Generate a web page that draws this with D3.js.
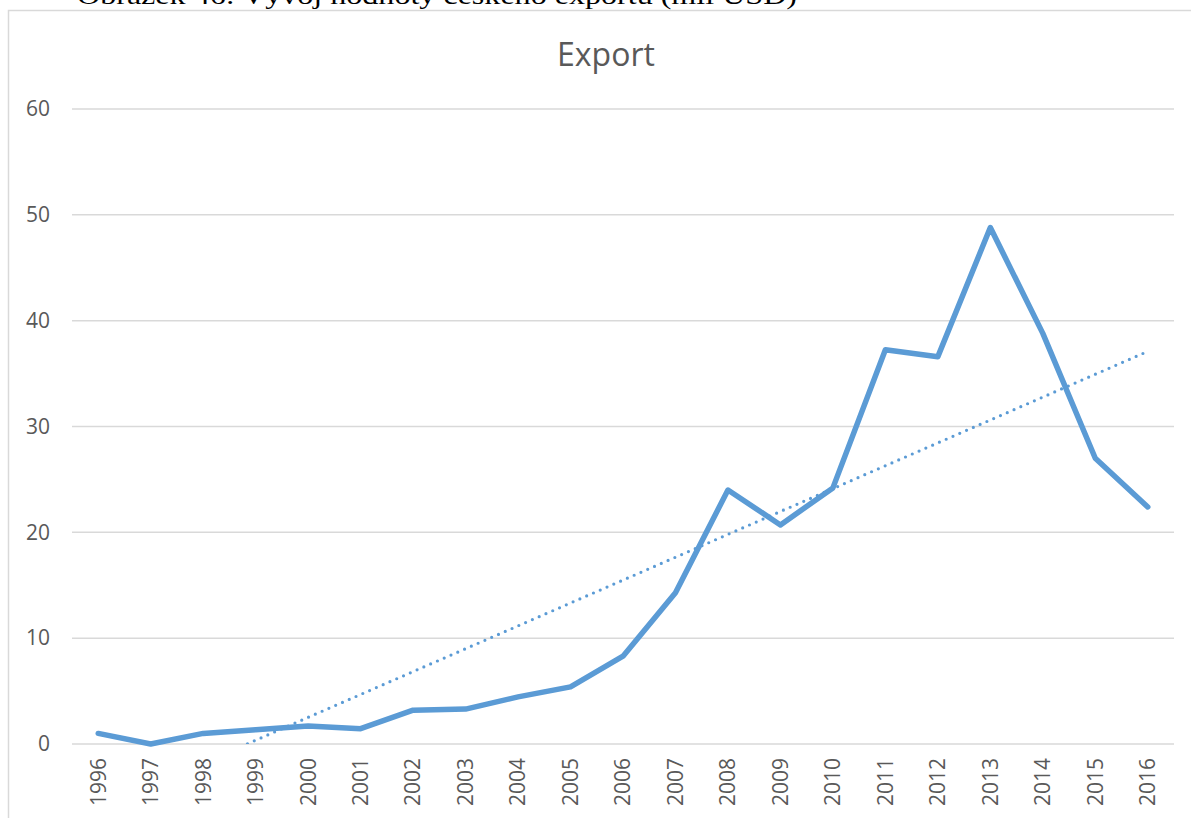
<!DOCTYPE html>
<html>
<head>
<meta charset="utf-8">
<script src="https://cdn.jsdelivr.net/npm/d3@7/dist/d3.min.js"></script>
<style>
  html, body { margin: 0; padding: 0; background: #fff; }
  svg { display: block; }
</style>
</head>
<body>
<svg id="chart" width="1191" height="818"></svg>
<script>
// Czech export value by year (mil USD)
const years = ["1996","1997","1998","1999","2000","2001","2002","2003","2004","2005","2006",
               "2007","2008","2009","2010","2011","2012","2013","2014","2015","2016"];
const exportValues = [1.0, 0.0, 1.0, 1.35, 1.7, 1.45, 3.2, 3.3, 4.45, 5.4, 8.3,
                      14.3, 24.0, 20.7, 24.2, 37.25, 36.6, 48.8, 38.8, 27.0, 22.4];
const yTicks = [0, 10, 20, 30, 40, 50, 60];
const chartTitle = "Export";
const caption = "Obrázek 46: Vývoj hodnoty českého exportu (mil USD)";

const svg = d3.select("#chart");
const plot = { left: 72, right: 1174, top: 109, bottom: 744 };
const labelFont = "'Open Sans', 'Noto Sans', sans-serif";

// Figure caption above the chart frame
svg.append("text")
  .attr("x", 77).attr("y", 4)
  .attr("font-family", "'Liberation Serif', 'Times New Roman', serif")
  .attr("font-size", 26)
  .attr("fill", "#000")
  .attr("textLength", 720)
  .attr("lengthAdjust", "spacingAndGlyphs")
  .text(caption);

// Chart frame
svg.append("rect")
  .attr("x", 8.5).attr("y", 10.5)
  .attr("width", 1300).attr("height", 900)
  .attr("fill", "#fff")
  .attr("stroke", "#d9d9d9").attr("stroke-width", 1.5);

const x = d3.scaleBand().domain(years).range([plot.left, plot.right]);
const y = d3.scaleLinear().domain([0, 60]).range([plot.bottom, plot.top]);
const cx = d => x(d) + x.bandwidth() / 2;

// Gridlines
svg.append("g")
  .selectAll("line").data(yTicks).join("line")
  .attr("x1", plot.left).attr("x2", plot.right)
  .attr("y1", d => y(d)).attr("y2", d => y(d))
  .attr("stroke", "#d9d9d9").attr("stroke-width", 1.5);

// Y axis labels
const yAxis = svg.append("g")
  .attr("transform", `translate(${plot.left},0)`)
  .call(d3.axisLeft(y).tickValues(yTicks).tickSize(0).tickPadding(22));
yAxis.select(".domain").remove();
yAxis.selectAll("text")
  .attr("font-family", labelFont)
  .attr("font-size", 21)
  .attr("fill", "#595959");

// X axis labels, rotated
const xAxis = svg.append("g")
  .attr("transform", `translate(0,${plot.bottom})`)
  .call(d3.axisBottom(x).tickSize(0).tickPadding(0));
xAxis.select(".domain").remove();
xAxis.selectAll("text")
  .attr("font-family", labelFont)
  .attr("font-size", 21)
  .attr("fill", "#595959")
  .attr("text-anchor", "end")
  .attr("dy", "0.35em")
  .attr("transform", "translate(0,14) rotate(-90)")
  .attr("x", 0).attr("y", 0);

// Title
svg.append("text")
  .attr("x", 606).attr("y", 66)
  .attr("text-anchor", "middle")
  .attr("font-family", labelFont)
  .attr("font-size", 32)
  .attr("fill", "#595959")
  .text(chartTitle);

// Linear trendline (least squares over the category index)
const n = exportValues.length;
const xs = d3.range(1, n + 1);
const mx = d3.mean(xs), my = d3.mean(exportValues);
const slope = d3.sum(xs, (v, i) => (v - mx) * (exportValues[i] - my)) /
              d3.sum(xs, v => (v - mx) * (v - mx));
const intercept = my - slope * mx;

svg.append("clipPath").attr("id", "plotClip")
  .append("rect")
  .attr("x", plot.left).attr("y", plot.top)
  .attr("width", plot.right - plot.left).attr("height", plot.bottom - plot.top);

const ix = d3.scaleLinear().domain([1, n]).range([cx(years[0]), cx(years[n - 1])]);
svg.append("line")
  .attr("clip-path", "url(#plotClip)")
  .attr("x1", ix(1)).attr("y1", y(intercept + slope * 1))
  .attr("x2", ix(n)).attr("y2", y(intercept + slope * n))
  .attr("stroke", "#5b9bd5")
  .attr("stroke-width", 3.2)
  .attr("stroke-linecap", "round")
  .attr("stroke-dasharray", "0 7.4");

// Export series
const line = d3.line().x((d, i) => cx(years[i])).y(d => y(d));
svg.append("path")
  .datum(exportValues)
  .attr("d", line)
  .attr("fill", "none")
  .attr("stroke", "#5b9bd5")
  .attr("stroke-width", 5.5)
  .attr("stroke-linejoin", "round")
  .attr("stroke-linecap", "round");
</script>
</body>
</html>
